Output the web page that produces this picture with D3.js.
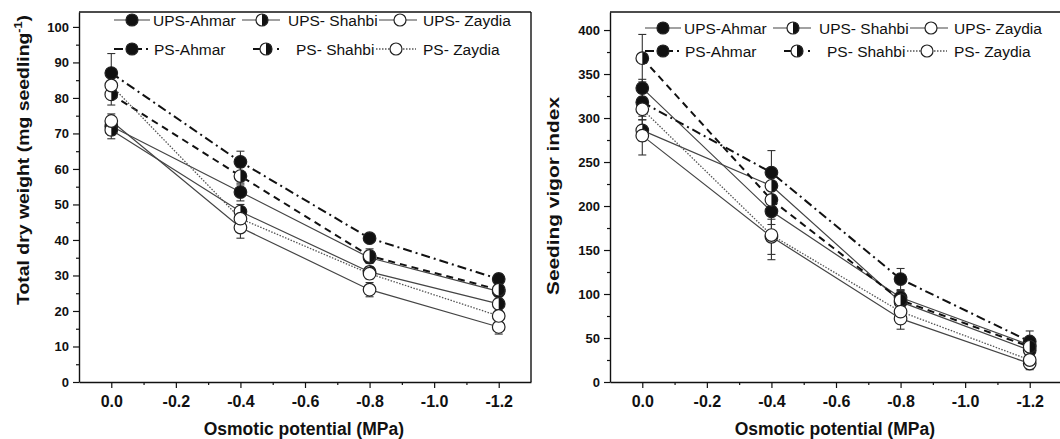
<!DOCTYPE html>
<html>
<head>
<meta charset="utf-8">
<script src="https://cdn.jsdelivr.net/npm/d3@7"></script>
<style>
  body { margin: 0; background: #fff; }
  svg text { font-family: "Liberation Sans", Arial, sans-serif; fill: #111; }
</style>
</head>
<body>
<div id="chart"></div>
<script>
// osmotic potential levels (MPa)
const osmotic = [0, -0.4, -0.8, -1.2];
const seriesNames = ["UPS-Ahmar", "UPS- Shahbi", "UPS- Zaydia", "PS-Ahmar", "PS- Shahbi", "PS- Zaydia"];

// total dry weight (mg seedling-1)
const dwUpsAhmar  = [72, 53.5, 35, 25.5];
const dwUpsShahbi = [71, 48, 31, 22];
const dwUpsZaydia = [73.5, 43.5, 26, 15.5];
const dwPsAhmar   = [87, 62, 40.5, 29];
const dwPsShahbi  = [81, 58, 35.5, 26];
const dwPsZaydia  = [83.5, 46, 30.5, 18.6];
const dwErrUpsAhmar  = [2.5, 2.5, 1.5, 1.5];
const dwErrUpsShahbi = [2.5, 2, 1.5, 1.5];
const dwErrUpsZaydia = [2, 3, 2, 2];
const dwErrPsAhmar   = [5.5, 3, 1, 1.5];
const dwErrPsShahbi  = [3, 2.5, 2, 1.5];
const dwErrPsZaydia  = [2.5, 2, 1.5, 1.5];

// seedling vigor index
const svUpsAhmar  = [334, 194, 96, 42];
const svUpsShahbi = [286, 223, 91, 36];
const svUpsZaydia = [280, 165, 72, 21];
const svPsAhmar   = [318, 238, 117, 46];
const svPsShahbi  = [368, 207, 93, 40];
const svPsZaydia  = [310, 167, 80, 25];
const svErrUpsAhmar  = [10, 15, 8, 6];
const svErrUpsShahbi = [12, 12, 8, 6];
const svErrUpsZaydia = [22, 20, 12, 7];
const svErrPsAhmar   = [10, 25, 12, 12];
const svErrPsShahbi  = [27, 15, 10, 8];
const svErrPsZaydia  = [12, 28, 10, 6];

// ticks
const xTicks = [0, -0.2, -0.4, -0.6, -0.8, -1.0, -1.2];
const xMinor = [-0.1, -0.3, -0.5, -0.7, -0.9, -1.1];
const dwTicks = [0, 10, 20, 30, 40, 50, 60, 70, 80, 90, 100];
const dwMinor = [5, 15, 25, 35, 45, 55, 65, 75, 85, 95];
const svTicks = [0, 50, 100, 150, 200, 250, 300, 350, 400];
const svMinor = [25, 75, 125, 175, 225, 275, 325, 375];

const width = 1060, height = 439;
const svg = d3.select("#chart").append("svg")
  .attr("width", width).attr("height", height);

// line / marker styles for the six series
const styles = [
  { dash: null, stroke: "#444", sw: 1.2, marker: "filled" },
  { dash: null, stroke: "#444", sw: 1.2, marker: "half" },
  { dash: null, stroke: "#444", sw: 1.2, marker: "open" },
  { dash: "9,4,2,4", stroke: "#111", sw: 2, marker: "filled" },
  { dash: "7,5", stroke: "#111", sw: 2, marker: "half" },
  { dash: "1.5,1.5", stroke: "#555", sw: 1.3, marker: "open" }
];

function drawMarker(g, cx, cy, type, r) {
  if (type === "half") {
    g.append("circle").attr("cx", cx).attr("cy", cy).attr("r", r).attr("fill", "#fff");
    g.append("path")
      .attr("d", `M${cx},${cy - r} A${r},${r} 0 0 1 ${cx},${cy + r} Z`)
      .attr("fill", "#111");
    g.append("circle").attr("cx", cx).attr("cy", cy).attr("r", r)
      .attr("fill", "none").attr("stroke", "#222").attr("stroke-width", 1.2);
  } else {
    g.append("circle").attr("cx", cx).attr("cy", cy).attr("r", r)
      .attr("fill", type === "filled" ? "#111" : "#fff")
      .attr("stroke", "#222").attr("stroke-width", 1.2);
  }
}

function drawPanel(p) {
  const g = svg.append("g");
  const x = d3.scaleLinear().domain([0.1, -1.3]).range([p.left, p.right]);
  const y = d3.scaleLinear().domain(p.yDomain).range([382, 12]);

  // frame (top / right)
  g.append("line").attr("x1", p.left).attr("x2", p.right).attr("y1", 12).attr("y2", 12)
    .attr("stroke", "#111").attr("stroke-width", 1.4);
  g.append("line").attr("x1", p.right).attr("x2", p.right).attr("y1", 12).attr("y2", 382)
    .attr("stroke", "#111").attr("stroke-width", 1.4);

  // axes
  const xAxis = g.append("g").attr("transform", `translate(0,382)`)
    .call(d3.axisBottom(x).tickValues(xTicks).tickSize(6).tickSizeOuter(0).tickPadding(8)
      .tickFormat(d => d.toFixed(1)));
  g.append("g").attr("transform", `translate(0,382)`)
    .call(d3.axisBottom(x).tickValues(xMinor).tickSize(3).tickSizeOuter(0).tickFormat(""))
    .select(".domain").remove();
  const yAxis = g.append("g").attr("transform", `translate(${p.left},0)`)
    .call(d3.axisLeft(y).tickValues(p.ticks).tickSize(6).tickSizeOuter(0).tickPadding(4));
  g.append("g").attr("transform", `translate(${p.left},0)`)
    .call(d3.axisLeft(y).tickValues(p.minor).tickSize(3).tickSizeOuter(0).tickFormat(""))
    .select(".domain").remove();
  g.selectAll(".domain").attr("stroke", "#111").attr("stroke-width", 1.4);
  g.selectAll(".tick line").attr("stroke", "#111").attr("stroke-width", 1.2);
  xAxis.selectAll("text").attr("font-size", 16).attr("font-weight", "bold");
  yAxis.selectAll("text").attr("font-size", 13).attr("font-weight", "bold");

  // series lines
  const line = d3.line().x((d, i) => x(osmotic[i])).y(d => y(d));
  p.series.forEach((s, k) => {
    g.append("path").datum(s)
      .attr("d", line).attr("fill", "none")
      .attr("stroke", styles[k].stroke).attr("stroke-width", styles[k].sw)
      .attr("stroke-dasharray", styles[k].dash);
  });
  // error bars
  p.series.forEach((s, k) => {
    s.forEach((v, i) => {
      const e = p.errors[k][i], cx = x(osmotic[i]);
      g.append("line").attr("x1", cx).attr("x2", cx).attr("y1", y(v - e)).attr("y2", y(v + e))
        .attr("stroke", "#333").attr("stroke-width", 1.1);
      [v - e, v + e].forEach(t => g.append("line")
        .attr("x1", cx - 4).attr("x2", cx + 4).attr("y1", y(t)).attr("y2", y(t))
        .attr("stroke", "#333").attr("stroke-width", 1.1));
    });
  });
  // markers
  p.series.forEach((s, k) => {
    s.forEach((v, i) => drawMarker(g, x(osmotic[i]), y(v), styles[k].marker, 6.3));
  });

  // legend
  const rows = [
    [{ l0: 35, l1: 71, m: 53, t: 74 }, { l0: 163, l1: 201, m: 183, t: 209 }, { l0: 300, l1: 338, m: 321, t: 344 }],
    [{ l0: 35, l1: 71, m: 53, t: 75 }, { l0: 174, l1: 200, m: 187, t: 217 }, { l0: 297, l1: 337, m: 317, t: 344 }]
  ];
  seriesNames.forEach((name, k) => {
    const row = Math.floor(k / 3), pos = rows[row][k % 3];
    const ly = p.legendY[row];
    const st = styles[k];
    g.append("line").attr("x1", p.left + pos.l0).attr("x2", p.left + pos.l1)
      .attr("y1", ly).attr("y2", ly)
      .attr("stroke", st.stroke).attr("stroke-width", st.sw)
      .attr("stroke-dasharray", st.dash);
    drawMarker(g, p.left + pos.m, ly, st.marker, 6);
    g.append("text").attr("x", p.left + pos.t).attr("y", ly + 6)
      .attr("font-size", 15.5).text(name);
  });

  // axis titles
  g.append("text").attr("x", (p.left + x(-1.2)) / 2 + 15).attr("y", 435)
    .attr("text-anchor", "middle").attr("font-size", 17.5).attr("font-weight", "bold")
    .text("Osmotic potential (MPa)");
  const yt = g.append("text")
    .attr("transform", `translate(${p.titleX},${p.titleY}) rotate(-90)`)
    .attr("text-anchor", "middle").attr("font-size", 17).attr("font-weight", "bold")
    .attr("textLength", p.titleLen).attr("lengthAdjust", "spacingAndGlyphs");
  p.title(yt);
}

drawPanel({
  left: 79, right: 531, yDomain: [0, 104.2],
  ticks: dwTicks, minor: dwMinor,
  series: [dwUpsAhmar, dwUpsShahbi, dwUpsZaydia, dwPsAhmar, dwPsShahbi, dwPsZaydia],
  errors: [dwErrUpsAhmar, dwErrUpsShahbi, dwErrUpsZaydia, dwErrPsAhmar, dwErrPsShahbi, dwErrPsZaydia],
  legendY: [20, 49],
  titleX: 29, titleY: 160, titleLen: 290,
  title: t => {
    t.append("tspan").text("Total dry weight (mg seedling");
    t.append("tspan").attr("font-size", 11).attr("dy", -7).text("-1");
    t.append("tspan").attr("dy", 7).text(")");
  }
});

drawPanel({
  left: 610, right: 1062, yDomain: [0, 420.5],
  ticks: svTicks, minor: svMinor,
  series: [svUpsAhmar, svUpsShahbi, svUpsZaydia, svPsAhmar, svPsShahbi, svPsZaydia],
  errors: [svErrUpsAhmar, svErrUpsShahbi, svErrUpsZaydia, svErrPsAhmar, svErrPsShahbi, svErrPsZaydia],
  legendY: [28, 51],
  titleX: 559, titleY: 196, titleLen: 198,
  title: t => t.text("Seeding vigor index")
});
</script>
</body>
</html>
